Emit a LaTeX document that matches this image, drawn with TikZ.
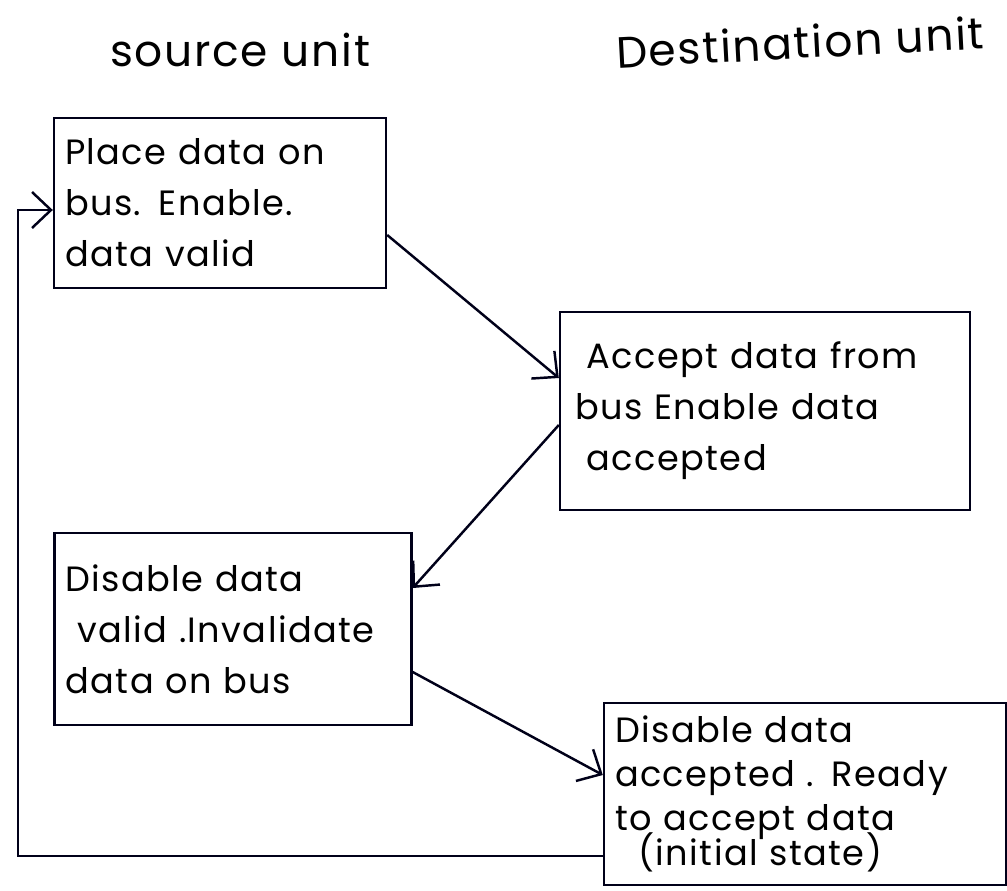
\documentclass[tikz,border=0pt]{standalone}
\usepackage{fontspec}
\setmainfont{Poppins}[LetterSpace=4]
\usetikzlibrary{arrows.meta}
\begin{document}
\begin{tikzpicture}[x=0.02cm, y=-0.02cm,
  ink/.style={line width=1.4pt, draw=black!90!blue},
  statebox/.style={ink, rectangle, align=left, inner xsep=0.22cm, inner ysep=0pt,
    font=\fontsize{20}{29}\selectfont},
  heading/.style={font=\fontsize{25}{28}\selectfont},
  flow/.style={ink, -{Straight Barb[length=0.38cm, width=0.72cm, line width=1.4pt]}}
]
\useasboundingbox[fill=white] (0,0) rectangle (1007,890);

% column headings
\node[heading] (src) at (240,50) {source unit};
\node[heading, rotate=3] (dst) at (800,42) {Destination unit};

% handshake states
\node[statebox, minimum width=6.6cm, minimum height=3.4cm, text width=6.2cm] (b1) at (220,203)
  {Place data on\\bus. Enable.\\data valid};
\node[statebox, minimum width=8.2cm, minimum height=3.96cm, text width=7.6cm] (b2) at (765,411)
  {\ Accept data from\\bus Enable data\\\ accepted};
\node[statebox, minimum width=7.0cm, minimum height=3.84cm, text width=6.7cm] (b3) at (233,629)
  {Disable data\\\ valid .Invalidate\\data on bus};
\node[statebox, minimum width=8.0cm, minimum height=3.64cm, text width=7.6cm,
  font=\fontsize{20}{25}\selectfont] (b4) at (805,794)
  {Disable data\\accepted . Ready\\to accept data\\[-5pt]\ \ (initial state)};

% return path corner
\coordinate (loop) at (18,530);

% transitions
\draw[flow] ([yshift=-0.64cm]b1.east) -- ([yshift=0.66cm]b2.west);
\draw[flow] ([yshift=-0.28cm]b2.west) -- ([yshift=0.82cm]b3.east);
\draw[flow] ([yshift=-0.86cm]b3.east) -- ([yshift=0.38cm]b4.west);
\draw[flow] ([yshift=-1.24cm]b4.west) -| (loop) |- ([yshift=-0.14cm]b1.west);
\end{tikzpicture}
\end{document}
